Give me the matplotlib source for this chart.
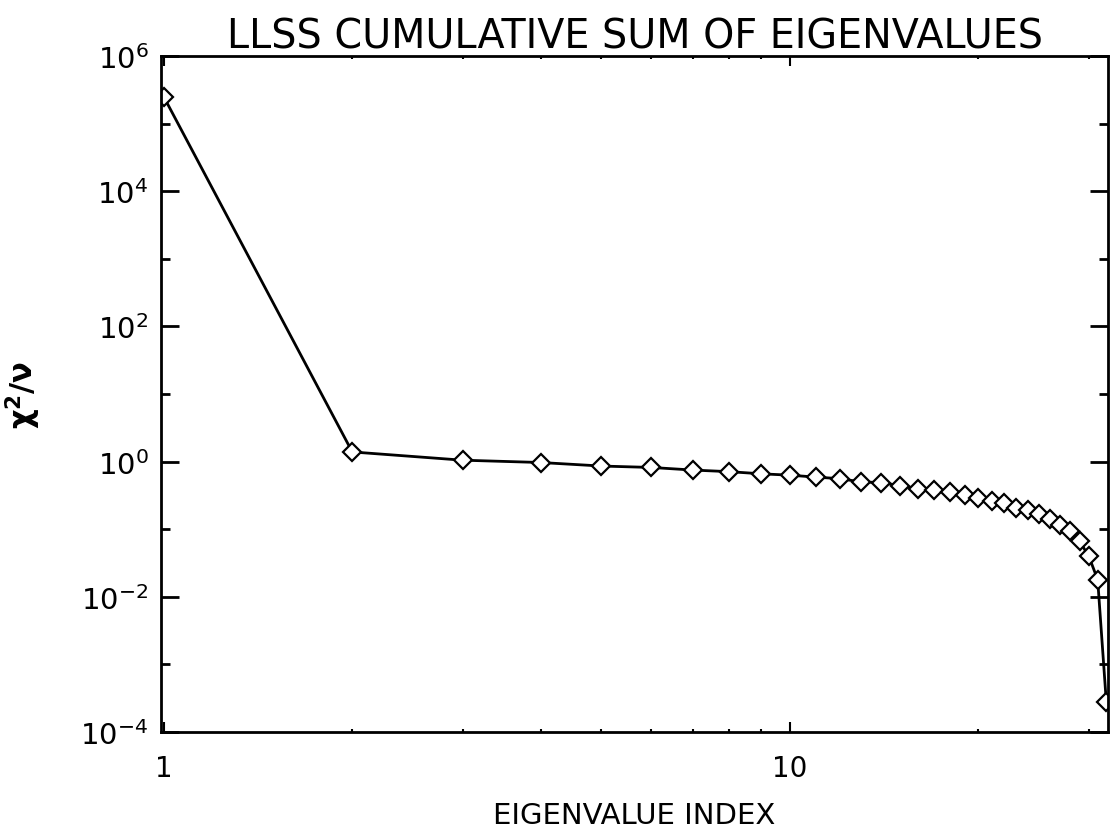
import numpy as np
import matplotlib
matplotlib.use("Agg")
import matplotlib.pyplot as plt
from matplotlib.ticker import FixedLocator, NullFormatter

plt.rcParams['font.family'] = ['DejaVu Sans']
plt.rcParams['mathtext.fontset'] = 'dejavusans'

# eigenvalue index and cumulative chi^2/nu
index = np.arange(1, 33)
chi2nu = [2.5e5, 1.39, 1.05, 0.97, 0.86, 0.82, 0.75, 0.71, 0.66, 0.63,
          0.59, 0.56, 0.50, 0.49, 0.44, 0.40, 0.38, 0.355, 0.32, 0.29,
          0.26, 0.246, 0.209, 0.19, 0.166, 0.14, 0.114, 0.093, 0.0665,
          0.040, 0.018, 2.8e-4]

y_major = [1e-4, 1e-2, 1e0, 1e2, 1e4, 1e6]
y_minor = [1e-3, 1e-1, 1e1, 1e3, 1e5]
y_labels = ['$10^{-4}$', '$10^{-2}$', '$10^{0}$', '$10^{2}$', '$10^{4}$', '$10^{6}$']
x_major = [1, 10]
x_minor = [2, 3, 4, 5, 6, 7, 8, 9, 20, 30]
x_labels = ['1', '10']

fig = plt.figure(figsize=(11.12, 8.29), dpi=100)
ax = fig.add_axes([0.1448, 0.1158, 0.8516, 0.8154])

ax.plot(index, chi2nu, '-', color='black', lw=2,
        marker='D', markersize=9.5, markerfacecolor='white',
        markeredgecolor='black', markeredgewidth=1.6)

ax.set_xscale('log')
ax.set_yscale('log')
ax.set_xlim(0.99, 32.2)
ax.set_ylim(1e-4, 1e6)

ax.yaxis.set_major_locator(FixedLocator(y_major))
ax.yaxis.set_minor_locator(FixedLocator(y_minor))
ax.set_yticklabels(y_labels)
ax.yaxis.set_minor_formatter(NullFormatter())
ax.xaxis.set_major_locator(FixedLocator(x_major))
ax.xaxis.set_minor_locator(FixedLocator(x_minor))
ax.set_xticklabels(x_labels)
ax.xaxis.set_minor_formatter(NullFormatter())

for s in ax.spines.values():
    s.set_linewidth(2)

ax.tick_params(axis='y', which='major', direction='in', length=13, width=2,
               left=True, right=True, labelsize=21, pad=9)
ax.tick_params(axis='y', which='minor', direction='in', length=6.5, width=2,
               left=True, right=True)
ax.tick_params(axis='x', which='major', direction='in', length=7, width=1.5,
               bottom=True, top=True, labelsize=20, pad=16)
ax.tick_params(axis='x', which='minor', direction='in', length=2.5, width=1.5,
               bottom=True, top=True)

ax.set_title('LLSS CUMULATIVE SUM OF EIGENVALUES', fontsize=28.5, pad=5)
ax.set_xlabel('EIGENVALUE INDEX', fontsize=21)
ax.xaxis.set_label_coords(0.5, -0.102)
ax.set_ylabel(r'$\mathbf{\chi^2/\nu}$', fontsize=22)
ax.yaxis.set_label_coords(-0.1246, 0.5)

fig.savefig('out.png', dpi=100)
